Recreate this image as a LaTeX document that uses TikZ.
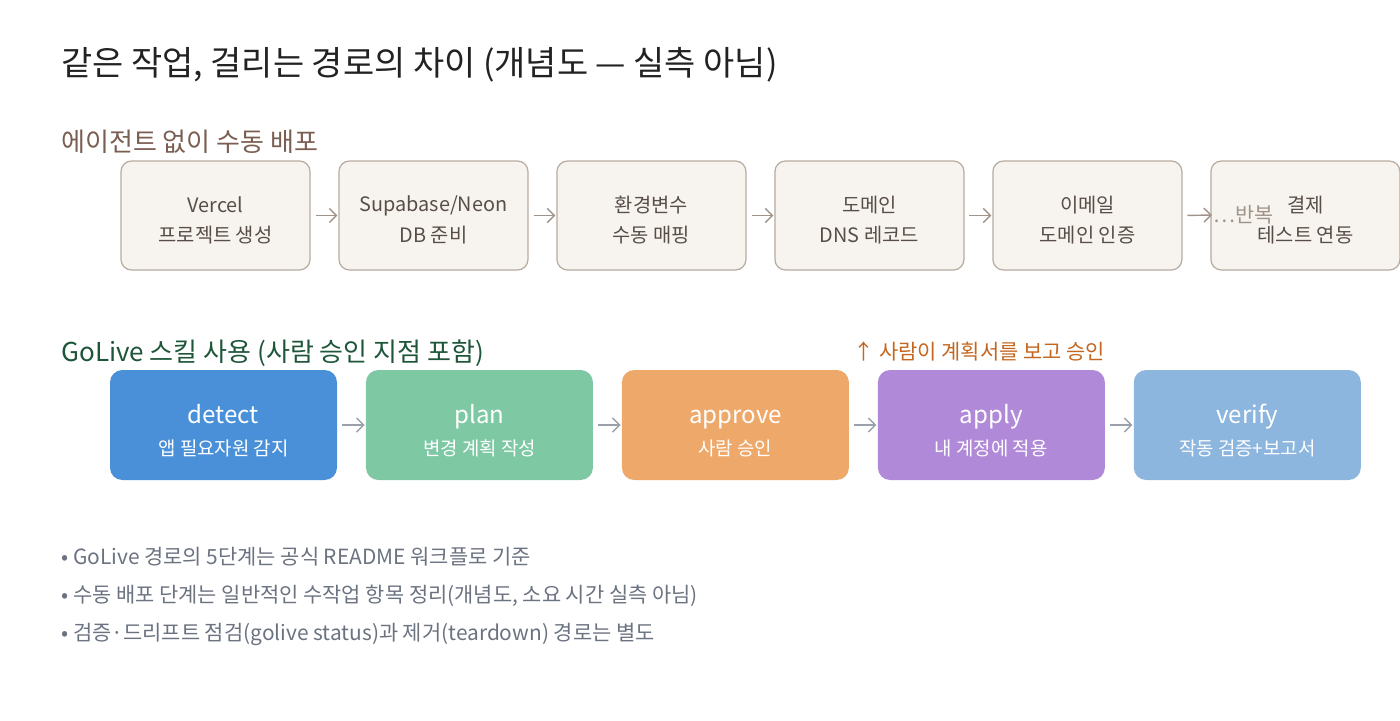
\documentclass[tikz,border=0pt]{standalone}
\usepackage{fontspec}
\setmainfont{Noto Sans CJK KR}
\usetikzlibrary{arrows.meta, positioning}
\definecolor{tTitle}{RGB}{34, 34, 34}
\definecolor{tManual}{RGB}{123, 94, 82}
\definecolor{tGoLive}{RGB}{30, 86, 58}
\definecolor{cManual}{RGB}{247, 244, 239}
\definecolor{bManual}{RGB}{184, 171, 160}
\definecolor{tBox}{RGB}{88, 78, 71}
\definecolor{aManual}{RGB}{160, 148, 138}
\definecolor{aGoLive}{RGB}{154, 161, 170}
\definecolor{cDetect}{RGB}{74, 144, 217}
\definecolor{cPlan}{RGB}{126, 200, 164}
\definecolor{cApprove}{RGB}{238, 169, 106}
\definecolor{cApply}{RGB}{176, 138, 216}
\definecolor{cVerify}{RGB}{141, 182, 222}
\definecolor{tNote}{RGB}{196, 102, 31}
\definecolor{tBullet}{RGB}{107, 114, 128}
\newcommand{\manualtext}[2]{\rule{0pt}{14.5pt}#1\\#2}
\newcommand{\stagetext}[2]{{\fontsize{13.7}{16}\selectfont\rule{0pt}{17.5pt}\vphantom{p}#1}\\[5pt]{\fontsize{10.75}{12}\selectfont #2}}

\begin{document}
\begin{tikzpicture}[
    manual/.style={
        draw=bManual,
        fill=cManual,
        line width=0.7pt,
        rounded corners=6pt,
        align=center,
        text=tBox,
        font=\fontsize{11.3}{17.6}\selectfont,
        minimum width=3.78cm,
        minimum height=2.18cm,
        inner sep=0pt
    },
    golive/.style={
        fill=#1,
        rounded corners=7pt,
        align=center,
        text=white,
        minimum width=4.54cm,
        minimum height=2.2cm,
        inner sep=0pt
    },
    arrow/.style={-{Straight Barb[length=4pt, width=8pt]}, line width=0.8pt, color=#1, shorten <=2.8pt, shorten >=0.6pt},
    heading/.style={anchor=west, inner sep=0pt, font=\fontsize{14.8}{17}\selectfont},
    bullet/.style={anchor=west, inner sep=0pt, text=tBullet, font=\fontsize{11.9}{14}\selectfont}
]

\useasboundingbox (0, 0) rectangle (28, -14.4);

\node[anchor=west, inner sep=0pt, text=tTitle, font=\fontsize{19.3}{22}\selectfont] (title) at (1.22, -1.3) {같은 작업, 걸리는 경로의 차이 (개념도 — 실측 아님)};

% Row 1: manual deployment
\node[heading, text=tManual] (head1) at (1.22, -2.84) {에이전트 없이 수동 배포};

\node[manual] (vercel) at (4.31, -4.31) {\manualtext{Vercel}{프로젝트 생성}};
\node[manual, right=0.555cm of vercel] (db) {\manualtext{Supabase/Neon}{DB 준비}};
\node[manual, right=0.555cm of db] (env) {\manualtext{환경변수}{수동 매핑}};
\node[manual, right=0.555cm of env] (dns) {\manualtext{도메인}{DNS 레코드}};
\node[manual, right=0.555cm of dns] (mail) {\manualtext{이메일}{도메인 인증}};
\node[manual, right=0.555cm of mail] (pay) {\manualtext{결제}{테스트 연동}};

\node[anchor=west, inner sep=0pt, text=aManual, font=\fontsize{11.8}{13}\selectfont] (again) at (24.26, -4.3) {…반복};

\draw[arrow=aManual] (vercel) -- (db);
\draw[arrow=aManual] (db) -- (env);
\draw[arrow=aManual] (env) -- (dns);
\draw[arrow=aManual] (dns) -- (mail);
\draw[arrow=aManual] (mail.east) -- (again.west);

% Row 2: GoLive skill
\node[heading, text=tGoLive] (head2) at (1.22, -7.06) {GoLive 스킬 사용 (사람 승인 지점 포함)};

\node[golive=cDetect] (detect) at (4.47, -8.5) {\stagetext{detect}{앱 필요자원 감지}};
\node[golive=cPlan, right=0.565cm of detect] (plan) {\stagetext{plan}{변경 계획 작성}};
\node[golive=cApprove, right=0.565cm of plan] (approve) {\stagetext{approve}{사람 승인}};
\node[golive=cApply, right=0.565cm of approve] (apply) {\stagetext{apply}{내 계정에 적용}};
\node[golive=cVerify, right=0.565cm of apply] (verify) {\stagetext{verify}{작동 검증+보고서}};

\node[inner sep=0pt, text=tNote, font=\fontsize{11.9}{14}\selectfont, above=0.16cm of apply.north east, anchor=south east] (human) {↑ 사람이 계획서를 보고 승인};

\draw[arrow=aGoLive] (detect) -- (plan);
\draw[arrow=aGoLive] (plan) -- (approve);
\draw[arrow=aGoLive] (approve) -- (apply);
\draw[arrow=aGoLive] (apply) -- (verify);

% Notes
\node[bullet] (note1) at (1.22, -11.14) {• GoLive 경로의 5단계는 공식 README 워크플로 기준};
\node[bullet] (note2) at (1.22, -11.92) {• 수동 배포 단계는 일반적인 수작업 항목 정리(개념도, 소요 시간 실측 아님)};
\node[bullet] (note3) at (1.22, -12.68) {• 검증·드리프트 점검(golive status)과 제거(teardown) 경로는 별도};

\end{tikzpicture}
\end{document}
